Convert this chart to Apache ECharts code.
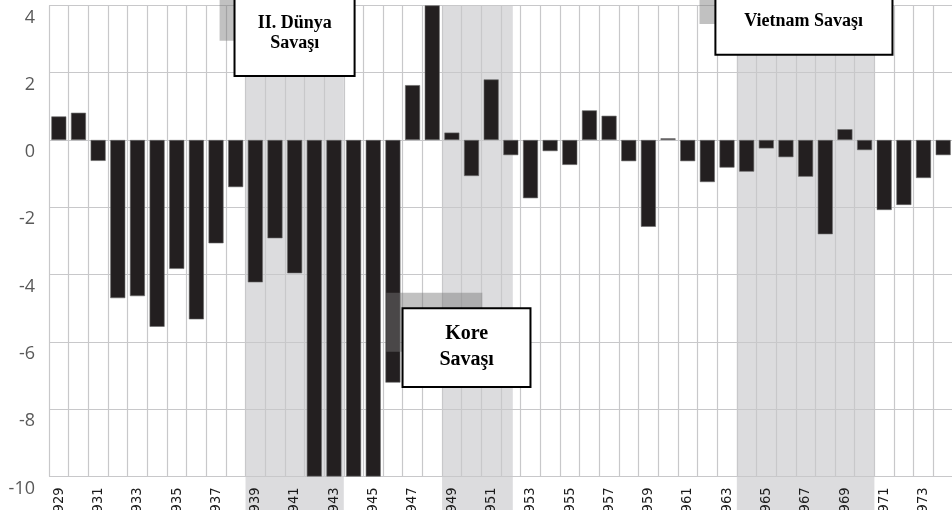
<!DOCTYPE html>
<html>
<head>
<meta charset="utf-8">
<script src="https://cdn.jsdelivr.net/npm/echarts@6/dist/echarts.min.js"></script>
<style>
html,body{margin:0;padding:0;background:#fff;}
#chart{width:952px;height:510px;}
</style>
</head>
<body>
<div id="chart"></div>
<script>
// ---- data ----
const years = ['1929','1930','1931','1932','1933','1934','1935','1936','1937','1938',
  '1939','1940','1941','1942','1943','1944','1945','1946','1947','1948',
  '1949','1950','1951','1952','1953','1954','1955','1956','1957','1958',
  '1959','1960','1961','1962','1963','1964','1965','1966','1967','1968',
  '1969','1970','1971','1972','1973','1974'];
const values = [0.70, 0.81, -0.62, -4.70, -4.64, -5.55, -3.83, -5.33, -3.07, -1.40,
  -4.23, -2.92, -3.96, -10, -10, -10, -10, -7.21, 1.63, 4.0,
  0.22, -1.07, 1.80, -0.45, -1.73, -0.33, -0.74, 0.88, 0.72, -0.63,
  -2.58, 0.05, -0.63, -1.25, -0.82, -0.94, -0.25, -0.51, -1.09, -2.80,
  0.32, -0.30, -2.08, -1.93, -1.13, -0.45];
const yMin = -10, yMax = 4, yStep = 2;
// war periods (in year units, band edges)
const warNames = ['II. Dünya Savaşı', 'Kore Savaşı', 'Vietnam Savaşı'];
const warStart = [1938.5, 1948.5, 1963.5];
const warEnd   = [1943.5, 1952.1, 1970.5];
// annotation boxes in data coordinates: [x0, x1, yTop, yBottom]
const boxLines = [['II. Dünya', 'Savaşı'], ['Kore', 'Savaşı'], ['Vietnam Savaşı']];
const boxRect  = [[1937.94, 1944.05, 4.6, 1.90], [1946.49, 1953.0, -5.0, -7.34], [1962.41, 1971.42, 4.6, 2.53]];
const boxText  = [[1941.0, 3.18], [1949.75, -6.15], [1966.9, 3.54]];
const boxFont  = [18, 20, 18];
const boxLineH = [20, 26, 20];
const shadowRect = [[1937.18, 1941.0, 4.6, 2.95], [1945.66, 1950.55, -4.54, -6.29], [1961.6, 1965.0, 4.6, 3.45]];

const chart = echarts.init(document.getElementById('chart'), null, {renderer: 'canvas'});
const option = {
  animation: false,
  backgroundColor: '#ffffff',
  grid: {left: 49, top: 5.4, width: 904, height: 471.1, containLabel: false, outerBoundsMode: 'none'},
  xAxis: [{
    type: 'category', data: years, z: 1,
    axisLine: {show: false}, axisTick: {show: false},
    splitLine: {show: true, interval: 0, lineStyle: {color: '#c8c8ca', width: 1.2}},
    axisLabel: {interval: 1, rotate: 90, margin: 11, color: '#1a1a1a', fontSize: 14.5,
      fontFamily: "'DejaVu Sans Condensed','Open Sans',sans-serif"}
  }, {
    type: 'value', min: 1928.5, max: 1974.5, show: false
  }],
  yAxis: {
    type: 'value', min: yMin, max: yMax, interval: yStep, z: 1,
    axisLine: {show: false}, axisTick: {show: false},
    splitLine: {show: true, lineStyle: {color: '#c8c8ca', width: 1.2}},
    axisLabel: {color: '#595959', fontSize: 18, fontFamily: "'Open Sans',sans-serif",
      margin: 14, verticalAlign: 'top', lineHeight: 24}
  },
  series: [{
    type: 'bar', data: values, barWidth: 15, z: 2,
    itemStyle: {color: '#231f20', borderColor: '#6a6a6a', borderWidth: 0.6}
  }, {
    type: 'line', xAxisIndex: 1, data: [], silent: true
  }]
};
chart.setOption(option);

function X(v){ return chart.convertToPixel({xAxisIndex: 1}, v); }
function Y(v){ return chart.convertToPixel({yAxisIndex: 0}, v); }

const g = [];
const topY = Y(yMax);
for (let i = 0; i < warStart.length; i++) {
  const x0 = X(warStart[i]), x1 = X(warEnd[i]);
  g.push({type: 'rect', z: 0, silent: true,
    shape: {x: x0, y: topY, width: x1 - x0, height: 510 - topY},
    style: {fill: '#dcdcde'}});
}
for (let i = 0; i < boxRect.length; i++) {
  const s = shadowRect[i];
  g.push({type: 'rect', z: 10, silent: true,
    shape: {x: X(s[0]), y: Y(s[2]), width: X(s[1]) - X(s[0]), height: Y(s[3]) - Y(s[2])},
    style: {fill: 'rgba(119,119,119,0.46)'}});
  const b = boxRect[i];
  g.push({type: 'rect', z: 11, silent: true,
    shape: {x: X(b[0]), y: Y(b[2]), width: X(b[1]) - X(b[0]), height: Y(b[3]) - Y(b[2])},
    style: {fill: '#ffffff', stroke: '#000000', lineWidth: 2}});
  g.push({type: 'text', z: 12, silent: true,
    style: {text: boxLines[i].join('\n'), x: X(boxText[i][0]), y: Y(boxText[i][1]),
      align: 'center', verticalAlign: 'middle', lineHeight: boxLineH[i],
      font: 'bold ' + boxFont[i] + "px 'Liberation Serif','Times New Roman',serif", fill: '#000'}});
}
chart.setOption({graphic: {elements: g}});
</script>
</body>
</html>
